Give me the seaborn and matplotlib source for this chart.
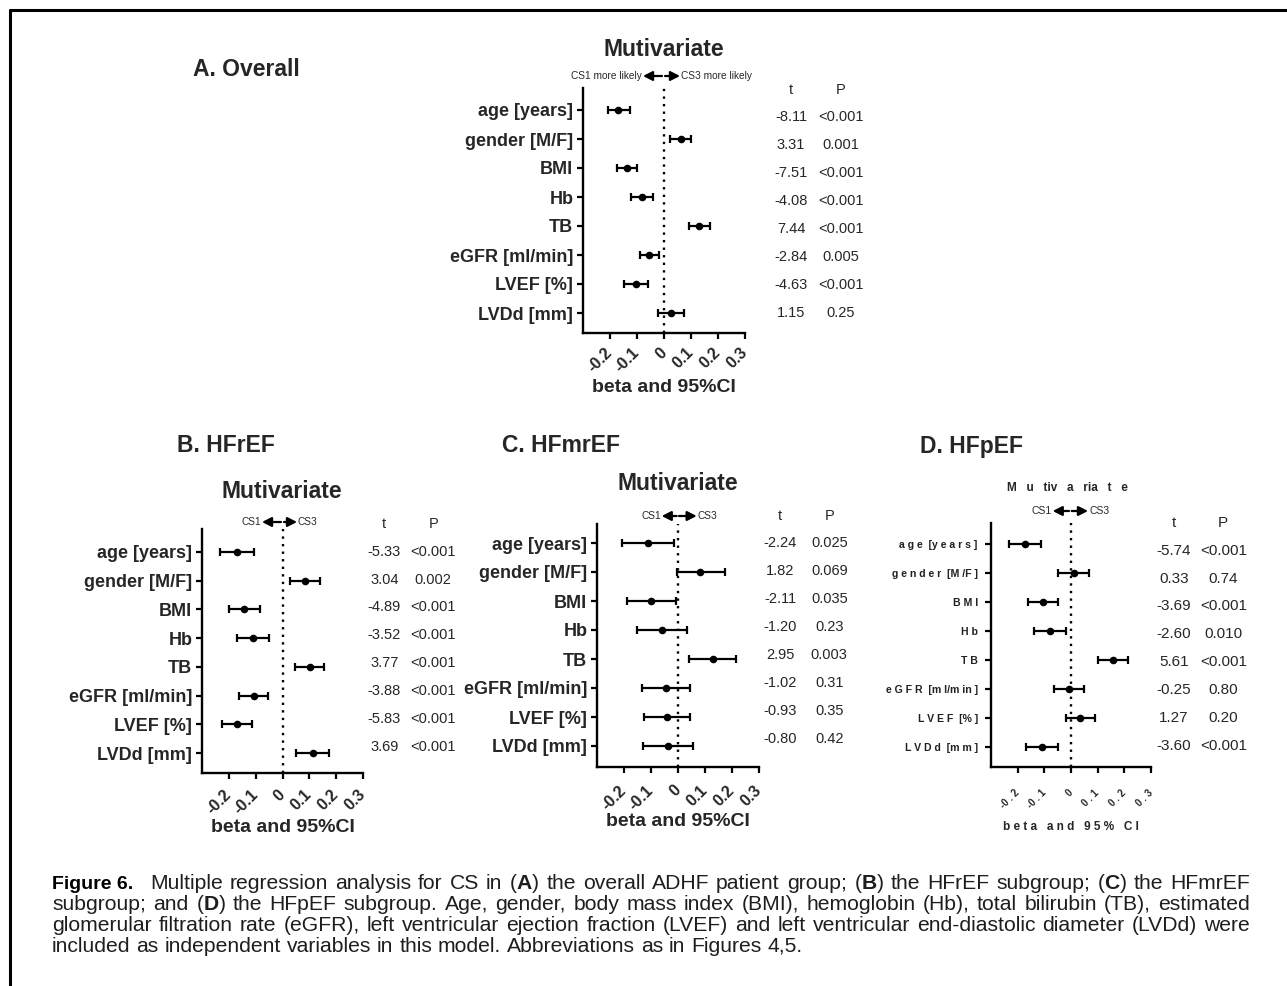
import matplotlib
matplotlib.use("Agg")
import matplotlib.pyplot as plt
from matplotlib.lines import Line2D
import numpy as np
import pandas as pd
import seaborn as sns

# ---------------- data ----------------
variables = ['age [years]', 'gender [M/F]', 'BMI', 'Hb', 'TB',
             'eGFR [ml/min]', 'LVEF [%]', 'LVDd [mm]']
variables_d = ['a g e  [y e a r s ]', 'g e n d e r  [M /F ]', 'B M I', 'H b', 'T B',
               'e G F R  [m l/m in ]', 'L V E F  [% ]', 'L V D d  [m m ]']

xtick_values = [-0.2, -0.1, 0.0, 0.1, 0.2, 0.3]
xtick_labels = ['-0.2', '-0.1', '0', '0.1', '0.2', '0.3']
xtick_labels_d = ['-0 . 2', '-0 . 1', '0', '0 . 1', '0 . 2', '0 . 3']

# A. Overall
beta_a = [-0.169, 0.062, -0.138, -0.083, 0.131, -0.054, -0.104, 0.026]
lo_a = [-0.209, 0.022, -0.175, -0.123, 0.094, -0.089, -0.148, -0.023]
hi_a = [-0.126, 0.100, -0.099, -0.042, 0.170, -0.017, -0.058, 0.075]
t_a = ['-8.11', '3.31', '-7.51', '-4.08', '7.44', '-2.84', '-4.63', '1.15']
p_a = ['<0.001', '0.001', '<0.001', '<0.001', '<0.001', '0.005', '<0.001', '0.25']

# B. HFrEF
beta_b = [-0.168, 0.082, -0.142, -0.111, 0.101, -0.108, -0.168, 0.113]
lo_b = [-0.233, 0.029, -0.198, -0.171, 0.047, -0.162, -0.224, 0.051]
hi_b = [-0.108, 0.141, -0.083, -0.049, 0.156, -0.054, -0.113, 0.173]
t_b = ['-5.33', '3.04', '-4.89', '-3.52', '3.77', '-3.88', '-5.83', '3.69']
p_b = ['<0.001', '0.002', '<0.001', '<0.001', '<0.001', '<0.001', '<0.001', '<0.001']

# C. HFmrEF
beta_c = [-0.110, 0.081, -0.100, -0.058, 0.128, -0.046, -0.040, -0.038]
lo_c = [-0.207, -0.002, -0.190, -0.153, 0.041, -0.135, -0.126, -0.131]
hi_c = [-0.015, 0.173, -0.007, 0.035, 0.214, 0.044, 0.044, 0.054]
t_c = ['-2.24', '1.82', '-2.11', '-1.20', '2.95', '-1.02', '-0.93', '-0.80']
p_c = ['0.025', '0.069', '0.035', '0.23', '0.003', '0.31', '0.35', '0.42']

# D. HFpEF
beta_d = [-0.172, 0.010, -0.106, -0.078, 0.158, -0.008, 0.035, -0.110]
lo_d = [-0.232, -0.048, -0.162, -0.138, 0.102, -0.065, -0.020, -0.170]
hi_d = [-0.112, 0.068, -0.048, -0.020, 0.215, 0.050, 0.090, -0.050]
t_d = ['-5.74', '0.33', '-3.69', '-2.60', '5.61', '-0.25', '1.27', '-3.60']
p_d = ['<0.001', '0.74', '<0.001', '0.010', '<0.001', '0.80', '0.20', '<0.001']

caption_lines = [
    "Multiple regression analysis for CS in ($\\mathbf{A}$) the overall ADHF patient group; ($\\mathbf{B}$) the HFrEF subgroup; ($\\mathbf{C}$) the HFmrEF",
    "subgroup; and ($\\mathbf{D}$) the HFpEF subgroup. Age, gender, body mass index (BMI), hemoglobin (Hb), total bilirubin (TB), estimated",
    "glomerular filtration rate (eGFR), left ventricular ejection fraction (LVEF) and left ventricular end-diastolic diameter (LVDd) were",
    "included as independent variables in this model. Abbreviations as in Figures 4,5.",
]

# ---------------- style ----------------
sns.set_style("white")
plt.rcParams['font.family'] = ['Liberation Sans', 'DejaVu Sans']
plt.rcParams['mathtext.fontset'] = 'custom'
plt.rcParams['mathtext.rm'] = 'Liberation Sans'
plt.rcParams['mathtext.bf'] = 'Liberation Sans:bold'
plt.rcParams['mathtext.it'] = 'Liberation Sans:italic'

W, H = 1287, 986
fig = plt.figure(figsize=(W / 100, H / 100), dpi=100)
fig.patch.set_facecolor('white')


def fp(x, y):
    return (x / W, 1 - y / H)


# frame lines
fig.add_artist(Line2D([9.5 / W, 1.0], [fp(0, 9.5)[1]] * 2, color='black', lw=2.2,
                      transform=fig.transFigure))
fig.add_artist(Line2D([9.5 / W] * 2, [fp(0, 9.5)[1], 0.0], color='black', lw=2.2,
                      transform=fig.transFigure))

panels = [
    dict(name='A. Overall', labels=variables, beta=beta_a, lo=lo_a, hi=hi_a, t=t_a, p=p_a,
         box=(583, 88, 745, 333), rows=(110, 313), letter=(193, 70),
         title=(664, 50), cs_y=76, arrows=(643, 662, 665, 680),
         cs_text=('CS1 more likely', 'CS3 more likely'),
         tx=791, px=841, head_y=90, row0=117.3, step=27.9, xlab_y=388,
         tickpad=8, small=False),
    dict(name='B. HFrEF', labels=variables, beta=beta_b, lo=lo_b, hi=hi_b, t=t_b, p=p_b,
         box=(202, 529, 363, 773), rows=(552, 753), letter=(177, 445),
         title=(282, 492), cs_y=522, arrows=(262, 281, 284, 297),
         cs_text=('CS1', 'CS3'),
         tx=384.3, px=433.3, head_y=524, row0=551.7, step=27.86, xlab_y=828,
         tickpad=9.5, small=False),
    dict(name='C. HFmrEF', labels=variables, beta=beta_c, lo=lo_c, hi=hi_c, t=t_c, p=p_c,
         box=(597, 524, 759, 767), rows=(543, 746), letter=(502, 445),
         title=(678, 483), cs_y=516, arrows=(661.7, 676.7, 679, 696.7),
         cs_text=('CS1', 'CS3'),
         tx=780, px=829.3, head_y=515.7, row0=543.3, step=28.0, xlab_y=822,
         tickpad=10.5, small=False),
    dict(name='D. HFpEF', labels=variables_d, beta=beta_d, lo=lo_d, hi=hi_d, t=t_d, p=p_d,
         box=(991, 523, 1151, 767), rows=(544, 747), letter=(920, 447),
         title=(1067, 488), cs_y=511, arrows=(1052.7, 1069, 1071.7, 1088),
         cs_text=('CS1', 'CS3'),
         tx=1174, px=1223.3, head_y=523.3, row0=550.7, step=27.9, xlab_y=827,
         tickpad=13, small=True),
]

for P in panels:
    l, t, r, b = P['box']
    ax = fig.add_axes([l / W, 1 - b / H, (r - l) / W, (b - t) / H])
    df = pd.DataFrame({'label': P['labels'], 'beta': P['beta'],
                       'lo': P['lo'], 'hi': P['hi']})
    ax.axvline(0, color='black', lw=1.7, ls=(0, (1.0, 2.2)), zorder=1)
    xerr = np.vstack([df['beta'] - df['lo'], df['hi'] - df['beta']])
    ax.errorbar(df['beta'], df['label'], xerr=xerr, fmt='none', ecolor='black',
                elinewidth=1.6, capsize=3.2, capthick=1.6, zorder=2)
    sns.scatterplot(data=df, x='beta', y='label', ax=ax, color='black', s=30,
                    edgecolor='black', linewidth=0, zorder=3, legend=False)

    r0, r7 = P['rows']
    sp = (r7 - r0) / 7
    ax.set_ylim(7 + (b - r7) / sp, -(r0 - t) / sp)
    ax.set_xlim(-0.3, 0.3)
    sns.despine(ax=ax)
    for s in ('left', 'bottom'):
        ax.spines[s].set_linewidth(1.7)
        ax.spines[s].set_color('black')
    ax.tick_params(axis='both', which='major', direction='out', length=4.5, width=1.6,
                   color='black', left=True, bottom=True)
    ax.set_yticks(range(len(P['labels'])))
    ax.set_xticks(xtick_values)
    if P['small']:
        ax.set_yticklabels(P['labels'], fontsize=7.6, fontweight='bold', color='#222222')
        ax.set_xticklabels(xtick_labels_d, fontsize=7, fontweight='bold', rotation=45,
                           ha='right', va='center', rotation_mode='anchor')
        ax.tick_params(axis='y', pad=5)
        ax.set_xlabel('b e t a   a n d   9 5 %   C I', fontsize=8.5, fontweight='bold')
    else:
        ax.set_yticklabels(P['labels'], fontsize=13, fontweight='bold')
        ax.set_xticklabels(xtick_labels, fontsize=11.5, fontweight='bold', rotation=45,
                           ha='right', va='center', rotation_mode='anchor')
        ax.tick_params(axis='y', pad=2.5)
        ax.set_xlabel('beta and 95%CI', fontsize=14, fontweight='bold')
    ax.tick_params(axis='x', pad=P['tickpad'])
    ax.set_ylabel('')
    ax.xaxis.set_label_coords(0.5, (b - P['xlab_y']) / (b - t))
    ax.xaxis.label.set_va('center')
    ax.patch.set_alpha(0)

    # panel letter title
    fig.text(*fp(*P['letter']), P['name'], fontsize=16.5, fontweight='bold',
             ha='left', va='center')
    # Mutivariate title
    if P['small']:
        fig.text(*fp(*P['title']), 'M   u   tiv   a   ria   t   e', fontsize=8.5,
                 fontweight='bold', ha='center', va='center')
    else:
        fig.text(*fp(*P['title']), 'Mutivariate', fontsize=16.5, fontweight='bold',
                 ha='center', va='center')

    # CS arrows
    a0, a1, a2, a3 = P['arrows']
    cy = P['cs_y']
    cs_fs = 7.3 if not P['small'] else 7.5
    ap = dict(arrowstyle='-|>,head_length=0.55,head_width=0.28', color='black',
              lw=1.6, shrinkA=0, shrinkB=0, mutation_scale=10)
    fig.add_artist(plt.Annotation('', xy=fp(a0, cy), xytext=fp(a1, cy),
                                  xycoords='figure fraction',
                                  textcoords='figure fraction', arrowprops=ap))
    fig.add_artist(plt.Annotation('', xy=fp(a3, cy), xytext=fp(a2, cy),
                                  xycoords='figure fraction',
                                  textcoords='figure fraction', arrowprops=ap))
    fig.text(*fp(a0 - 1, cy), P['cs_text'][0], fontsize=cs_fs, ha='right', va='center')
    fig.text(*fp(a3 + 1, cy), P['cs_text'][1], fontsize=cs_fs, ha='left', va='center')

    # t / P columns
    vfs = 11 if P['small'] else 10.5
    fig.text(*fp(P['tx'], P['head_y']), 't', fontsize=vfs, ha='center', va='center')
    fig.text(*fp(P['px'], P['head_y']), 'P', fontsize=vfs, ha='center', va='center')
    for i, (tv, pv) in enumerate(zip(P['t'], P['p'])):
        yy = P['row0'] + i * P['step']
        fig.text(*fp(P['tx'], yy), tv, fontsize=vfs, ha='center', va='center')
        fig.text(*fp(P['px'], yy), pv, fontsize=vfs, ha='center', va='center')

# ---------------- caption ----------------
cap_color = '#1e1e1e'
cap_fs = 15.2
fig.text(*fp(52, 889), 'Figure 6.', fontsize=14, fontweight='bold',
         family=['Liberation Sans Narrow', 'Liberation Sans'], color='black',
         ha='left', va='baseline')

renderer = fig.canvas.get_renderer()
starts = [150, 52, 52, 52]
baselines = [889, 910, 931, 952]
right_edge = 1250
for li, (line, x0, yb) in enumerate(zip(caption_lines, starts, baselines)):
    words = line.split(' ')
    texts = [fig.text(0, fp(0, yb)[1], w, fontsize=cap_fs, color=cap_color,
                      ha='left', va='baseline') for w in words]
    widths = [tx.get_window_extent(renderer).width for tx in texts]
    sp_t = fig.text(0, 0, 'a a', fontsize=cap_fs)
    a_t = fig.text(0, 0, 'aa', fontsize=cap_fs)
    nat_gap = sp_t.get_window_extent(renderer).width - a_t.get_window_extent(renderer).width
    sp_t.remove()
    a_t.remove()
    if li < 3:
        gap = (right_edge - x0 - sum(widths)) / (len(words) - 1)
        gap = max(gap, 0.6 * nat_gap)
    else:
        gap = nat_gap
    x = x0
    for tx, w in zip(texts, widths):
        tx.set_x(x / W)
        x += w + gap

fig.savefig('out.png', dpi=100)
